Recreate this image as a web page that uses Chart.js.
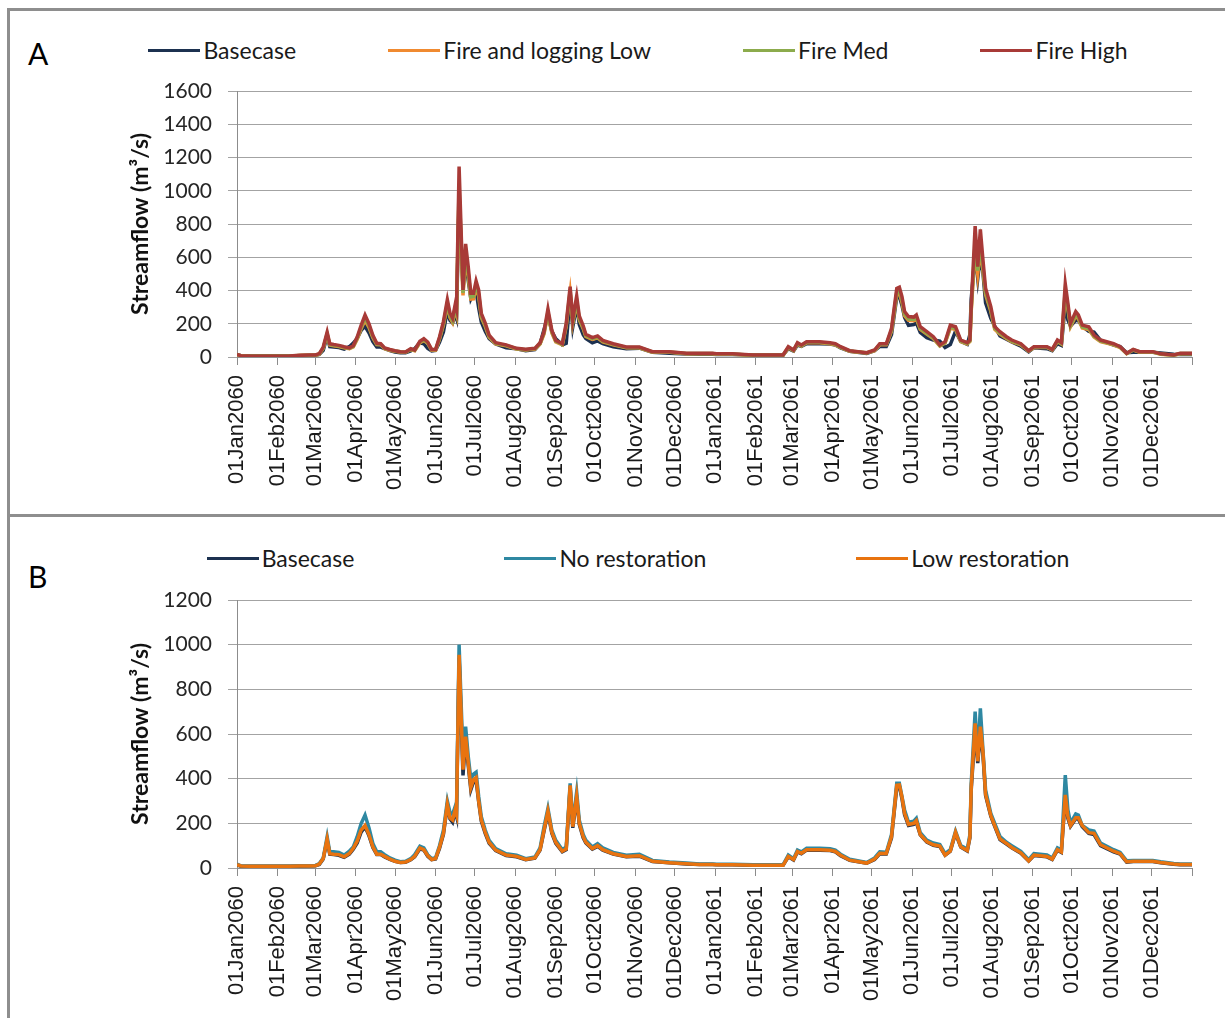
<!DOCTYPE html>
<html>
<head>
<meta charset="utf-8">
<title>Streamflow scenarios</title>
<script src="https://cdn.jsdelivr.net/npm/chart.js@4.4.1/dist/chart.umd.min.js"></script>
<style>
  body { margin: 0; width: 1225px; height: 1018px; overflow: hidden; position: relative; background: #fff; font-family: Lato, sans-serif; }
  .panel { position: absolute; left: 7px; width: 1400px; border: 3px solid #8e8e8e; border-right: none; box-sizing: border-box; }
  #panelA { top: 8px; height: 509px; }
  #panelB { top: 517px; height: 520px; border-top: none; }
  canvas { position: absolute; left: 10px; }
  .tag { position: absolute; left: 28px; font-size: 30px; line-height: 34px; color: #000; }
  .legend { position: absolute; left: 0; width: 1276px; display: flex; justify-content: center; font-size: 23px; line-height: 28px; color: #1a1a1a; }
  .legend .item { display: flex; align-items: center; white-space: nowrap; }
  .legend i { display: inline-block; width: 52px; height: 3px; margin-right: 3px; }
</style>
</head>
<body>
<div class="panel" id="panelA"></div>
<div class="panel" id="panelB"></div>
<div class="tag" style="top:36px">A</div>
<div class="tag" style="top:559px">B</div>
<div class="legend" id="legendA" style="top:36px; gap:92px"></div>
<div class="legend" id="legendB" style="top:544px; gap:150px"></div>
<canvas id="chartA" width="1256" height="503" style="top:11px"></canvas>
<canvas id="chartB" width="1256" height="501" style="top:517px"></canvas>
<script>
// day number counted from 01Jan2060
const DAYS = [
  0, 3, 10, 20, 30, 40, 48, 55, 60, 63,
  66, 69, 71, 74, 78, 82, 86, 89, 92, 95,
  98, 101, 104, 107, 110, 113, 117, 121, 125, 129,
  133, 136, 140, 143, 146, 149, 152, 155, 158, 161,
  163, 165, 167, 168, 170, 173, 175, 177, 179, 181,
  183, 185, 187, 190, 193, 198, 206, 214, 221, 228,
  232, 235, 238, 241, 244, 249, 252, 255, 257, 260,
  262, 265, 267, 272, 276, 280, 288, 298, 308, 318,
  331, 344, 354, 364, 367, 379, 395, 418, 422, 426,
  429, 432, 436, 446, 454, 458, 462, 469, 482, 488,
  492, 497, 501, 505, 507, 509, 511, 514, 518, 520,
  523, 528, 533, 538, 542, 546, 550, 554, 559, 561,
  562, 565, 567, 569, 571, 573, 577, 580, 584, 589,
  593, 600, 606, 610, 620, 624, 628, 631, 634, 636,
  638, 642, 644, 647, 652, 656, 661, 671, 676, 681,
  686, 691, 701, 707, 717, 722, 731
];

const MONTH_TICKS = [0, 31, 60, 91, 121, 152, 182, 213, 244, 274, 305, 335,
  366, 397, 425, 456, 486, 517, 547, 578, 609, 639, 670, 700, 731];
const MONTH_LABELS = ['01Jan2060', '01Feb2060', '01Mar2060', '01Apr2060', '01May2060', '01Jun2060',
  '01Jul2060', '01Aug2060', '01Sep2060', '01Oct2060', '01Nov2060', '01Dec2060',
  '01Jan2061', '01Feb2061', '01Mar2061', '01Apr2061', '01May2061', '01Jun2061',
  '01Jul2061', '01Aug2061', '01Sep2061', '01Oct2061', '01Nov2061', '01Dec2061', ''];

const BASECASE = [
  14, 8, 7, 7, 7, 7, 8, 9, 10, 16,
  40, 125, 62, 60, 57, 48, 62, 84, 112, 160,
  185, 145, 92, 60, 60, 50, 39, 30, 25, 26,
  37, 50, 86, 80, 52, 37, 40, 88, 150, 280,
  220, 205, 255, 232, 940, 415, 575, 460, 350, 385,
  395, 295, 210, 155, 110, 78, 56, 50, 37, 44,
  80, 165, 248, 155, 110, 73, 82, 360, 180, 310,
  195, 135, 112, 85, 97, 80, 62, 50, 53, 29,
  23, 18, 16, 16, 15, 15, 12, 12, 50, 36,
  72, 64, 80, 80, 78, 72, 55, 34, 22, 38,
  64, 63, 135, 360, 365, 310, 238, 190, 195, 205,
  148, 116, 102, 96, 57, 75, 155, 94, 76, 135,
  350, 620, 470, 610, 505, 325, 232, 186, 127, 107,
  90, 66, 31, 56, 50, 38, 80, 70, 318, 222,
  186, 220, 220, 185, 155, 150, 100, 72, 62, 26,
  29, 29, 29, 24, 17, 15, 15
];
const FIRE_LOW = [
  14, 7, 5, 5, 5, 5, 9, 11, 11, 17,
  52, 136, 72, 68, 63, 56, 50, 61, 106, 170,
  222, 178, 116, 75, 73, 50, 41, 35, 30, 28,
  45, 38, 86, 100, 82, 41, 41, 108, 192, 312,
  238, 208, 284, 256, 985, 370, 605, 486, 348, 350,
  415, 366, 238, 184, 119, 79, 67, 48, 42, 48,
  78, 139, 260, 144, 91, 73, 183, 385, 205, 328,
  224, 170, 124, 106, 115, 91, 73, 55, 55, 29,
  29, 20, 20, 20, 17, 17, 11, 11, 56, 38,
  79, 66, 85, 85, 79, 73, 57, 35, 24, 38,
  73, 73, 156, 378, 384, 330, 248, 220, 218, 230,
  166, 138, 111, 66, 84, 174, 165, 93, 78, 93,
  275, 655, 500, 650, 520, 375, 275, 166, 138, 111,
  93, 73, 35, 57, 57, 42, 93, 78, 385, 290,
  183, 247, 230, 174, 165, 120, 93, 73, 57, 20,
  42, 29, 29, 17, 11, 20, 20
];
const FIRE_MED = [
  14, 8, 6, 5, 5, 6, 9, 11, 11, 18,
  55, 140, 75, 70, 66, 58, 52, 64, 112, 178,
  238, 188, 122, 78, 76, 52, 43, 36, 31, 29,
  47, 40, 90, 104, 85, 43, 43, 112, 200, 325,
  248, 218, 296, 268, 1030, 385, 630, 505, 362, 365,
  432, 380, 248, 192, 124, 82, 70, 50, 44, 50,
  81, 144, 270, 150, 95, 76, 192, 400, 214, 340,
  232, 176, 129, 110, 120, 95, 76, 57, 57, 30,
  30, 21, 21, 21, 18, 18, 11, 11, 58, 40,
  82, 68, 88, 88, 82, 76, 59, 36, 25, 40,
  76, 76, 162, 390, 398, 342, 258, 228, 226, 238,
  172, 143, 115, 68, 87, 180, 171, 96, 81, 96,
  285, 690, 520, 680, 540, 390, 285, 172, 143, 115,
  96, 76, 36, 59, 59, 44, 96, 81, 405, 300,
  190, 256, 238, 180, 171, 124, 96, 76, 59, 21,
  44, 30, 30, 18, 11, 21, 21
];
const FIRE_HIGH = [
  15, 8, 6, 5, 5, 6, 10, 12, 12, 20,
  60, 150, 80, 75, 70, 62, 55, 68, 120, 190,
  252, 200, 130, 82, 80, 55, 45, 38, 32, 30,
  50, 42, 95, 110, 90, 45, 45, 120, 213, 345,
  265, 234, 315, 285, 1145, 403, 680, 543, 383, 383,
  457, 403, 263, 204, 132, 86, 73, 52, 46, 52,
  86, 152, 289, 160, 100, 80, 203, 423, 227, 367,
  247, 187, 137, 117, 127, 100, 80, 60, 60, 32,
  32, 22, 22, 22, 19, 19, 12, 12, 62, 42,
  86, 72, 92, 92, 86, 80, 62, 38, 26, 42,
  80, 80, 172, 413, 420, 363, 273, 243, 240, 253,
  182, 152, 122, 72, 92, 192, 182, 102, 86, 102,
  300, 788, 543, 768, 583, 413, 303, 182, 152, 122,
  102, 80, 38, 62, 62, 46, 102, 86, 439, 323,
  202, 273, 253, 192, 182, 132, 102, 80, 62, 22,
  46, 32, 32, 19, 12, 22, 22
];
const NO_RESTORATION = [
  17, 10, 9, 9, 9, 9, 10, 10, 11, 20,
  45, 140, 73, 73, 70, 58, 75, 95, 140, 199,
  237, 180, 110, 73, 73, 60, 45, 35, 28, 30,
  42, 60, 98, 90, 60, 42, 46, 100, 169, 300,
  250, 240, 275, 251, 1000, 500, 633, 500, 398, 420,
  429, 320, 230, 170, 124, 87, 64, 57, 42, 49,
  90, 184, 267, 169, 124, 82, 94, 379, 199, 341,
  214, 150, 124, 94, 109, 90, 70, 57, 61, 34,
  27, 22, 18, 18, 17, 17, 14, 14, 58, 42,
  80, 72, 88, 88, 86, 80, 62, 39, 25, 45,
  72, 70, 150, 379, 379, 320, 260, 205, 210, 223,
  158, 125, 112, 105, 64, 82, 165, 100, 85, 150,
  379, 700, 498, 715, 528, 349, 245, 200, 141, 115,
  100, 75, 37, 64, 58, 45, 90, 80, 416, 260,
  201, 242, 237, 190, 170, 165, 112, 82, 70, 32,
  34, 34, 34, 28, 20, 18, 18
];
const LOW_RESTORATION = [
  15, 9, 8, 8, 8, 8, 9, 9, 10, 18,
  42, 130, 64, 62, 60, 50, 65, 88, 120, 170,
  190, 150, 95, 62, 62, 52, 40, 30, 25, 27,
  38, 52, 90, 82, 55, 38, 42, 92, 155, 285,
  225, 215, 260, 240, 955, 440, 588, 470, 360, 395,
  405, 300, 215, 160, 115, 80, 58, 52, 38, 45,
  82, 170, 255, 160, 115, 75, 85, 370, 185, 320,
  200, 140, 115, 87, 100, 82, 64, 52, 55, 30,
  24, 19, 16, 16, 15, 15, 12, 12, 52, 38,
  74, 66, 82, 82, 80, 74, 57, 35, 22, 40,
  66, 65, 140, 370, 372, 318, 245, 195, 200, 212,
  150, 118, 104, 98, 58, 76, 160, 95, 78, 140,
  360, 648, 478, 633, 520, 330, 235, 190, 130, 110,
  92, 68, 32, 58, 52, 40, 82, 72, 327, 230,
  190, 225, 225, 190, 158, 155, 104, 75, 64, 28,
  30, 30, 30, 25, 18, 16, 16
];

// order: lower number is drawn on top
const SERIES_A = [
  { label: 'Basecase', values: BASECASE, color: '#1c3150', order: 4 },
  { label: 'Fire and logging Low', values: FIRE_LOW, color: '#f08a30', order: 3 },
  { label: 'Fire Med', values: FIRE_MED, color: '#8cab4c', order: 2 },
  { label: 'Fire High', values: FIRE_HIGH, color: '#a83a37', order: 1 }
];
const SERIES_B = [
  { label: 'Basecase', values: BASECASE, color: '#1c3150', order: 3 },
  { label: 'No restoration', values: NO_RESTORATION, color: '#2e88a2', order: 2 },
  { label: 'Low restoration', values: LOW_RESTORATION, color: '#e8730f', order: 1 }
];

function buildLegend(id, series) {
  const box = document.getElementById(id);
  series.forEach(s => {
    const item = document.createElement('span');
    item.className = 'item';
    item.innerHTML = '<i style="background:' + s.color + '"></i>' + s.label;
    box.appendChild(item);
  });
}

function drawChart(id, series, yMax, padTop, xHeight) {
  const ctx = document.getElementById(id).getContext('2d');
  return new Chart(ctx, {
    type: 'line',
    data: {
      datasets: series.map(s => ({
        label: s.label,
        data: DAYS.map((d, i) => ({ x: d, y: s.values[i] })),
        borderColor: s.color,
        backgroundColor: s.color,
        borderWidth: 3.5,
        pointRadius: 0,
        tension: 0,
        fill: false,
        order: s.order
      }))
    },
    options: {
      responsive: false,
      animation: false,
      events: [],
      layout: { padding: { top: padTop, right: 74, left: 117, bottom: 0 } },
      plugins: { legend: { display: false }, tooltip: { enabled: false } },
      scales: {
        x: {
          type: 'linear',
          min: 0,
          max: 731,
          afterBuildTicks: s => { s.ticks = MONTH_TICKS.map(v => ({ value: v })); },
          afterFit: s => { s.height = xHeight; },
          grid: { drawOnChartArea: false, color: '#8c8c8c', tickLength: 8 },
          border: { color: '#8c8c8c' },
          ticks: {
            autoSkip: false, maxRotation: 90, minRotation: 90, padding: 10,
            color: '#1a1a1a',
            font: { family: '"Liberation Sans", Arial, sans-serif', size: 22 },
            callback: (v, i) => MONTH_LABELS[i]
          }
        },
        y: {
          min: 0,
          max: yMax,
          afterFit: s => { s.width = 110; },
          grid: { color: '#a3a3a3', tickLength: 9 },
          border: { color: '#8c8c8c' },
          ticks: {
            stepSize: 200, padding: 16, color: '#262626',
            font: { family: 'Lato', size: 21 },
            callback: v => String(v)
          },
          title: {
            display: true, text: 'Streamflow (m³/s)', color: '#111', padding: 0,
            font: { family: 'Lato', size: 23, weight: 'bold' }
          }
        }
      }
    }
  });
}

buildLegend('legendA', SERIES_A);
buildLegend('legendB', SERIES_B);
drawChart('chartA', SERIES_A, 1600, 80, 157);
drawChart('chartB', SERIES_B, 1200, 83, 150);
</script>
</body>
</html>
